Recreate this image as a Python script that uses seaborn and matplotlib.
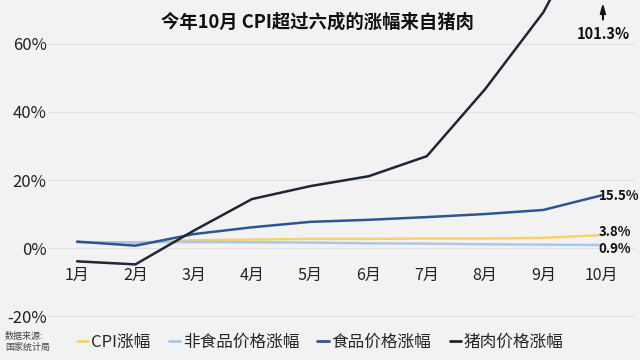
import pandas as pd
import seaborn as sns
import matplotlib.pyplot as plt
from matplotlib.patches import FancyArrow

months = ['1月', '2月', '3月', '4月', '5月', '6月', '7月', '8月', '9月', '10月']
cpi = [1.7, 1.5, 2.3, 2.5, 2.7, 2.7, 2.8, 2.8, 3.0, 3.8]
non_food = [1.7, 1.7, 1.8, 1.7, 1.6, 1.4, 1.3, 1.1, 1.0, 0.9]
food = [1.9, 0.7, 4.1, 6.1, 7.7, 8.3, 9.1, 10.0, 11.2, 15.5]
pork = [-3.9, -4.8, 5.1, 14.4, 18.2, 21.1, 27.0, 46.7, 69.3, 101.3]
series_names = ['CPI涨幅', '非食品价格涨幅', '食品价格涨幅', '猪肉价格涨幅']
colors = ['#f7d06f', '#a8c8e8', '#2e5592', '#1e2733']

df = pd.DataFrame({'idx': list(range(len(months))) * 4,
                   'value': cpi + non_food + food + pork,
                   'series': [s for s in series_names for _ in months]})

sns.set_theme(style='white')
plt.rcParams['font.family'] = ['Noto Sans CJK SC', 'DejaVu Sans']
bg = '#f2f2f2'

fig = plt.figure(figsize=(6.4, 3.6), dpi=100, facecolor=bg)
ax = fig.add_axes([0.075, 0.103, 0.917, 0.897])
ax.set_facecolor(bg)

sns.lineplot(data=df, x='idx', y='value', hue='series', palette=colors,
             linewidth=1.8, ax=ax, legend=False)

ax.set_xlim(-0.5, 9.57)
ax.set_ylim(-22, 72.9)
ax.set_yticks([-20, 0, 20, 40, 60])
ax.set_yticklabels(['-20%', '0%', '20%', '40%', '60%'], fontsize=12, color='#222222')
ax.tick_params(axis='y', length=0, pad=1)
ax.set_xticks([])
ax.grid(axis='y', color='#e2e2e2', linewidth=0.8)
ax.set_axisbelow(True)
for s in ax.spines.values():
    s.set_visible(False)
ax.set_xlabel('')
ax.set_ylabel('')

for i, m in enumerate(months):
    ax.text(i, -8, m, ha='center', va='center', fontsize=11.5, color='#222222')

# end labels
for val, y in [(food[-1], 15.2), (cpi[-1], 4.7), (non_food[-1], -0.3)]:
    ax.text(8.95, y, f'{val}%', ha='left', va='center', fontsize=9.5,
            fontweight='bold', color='#111111')

fig.text(0.942, 0.905, f'{pork[-1]}%', ha='center', va='center', fontsize=10.5,
         fontweight='bold', color='#111111')
fig.patches.append(FancyArrow(
    0.942, 0.945, 0, 0.04, width=0.0009, head_width=0.008, head_length=0.025,
    length_includes_head=True, color='#111111', transform=fig.transFigure))

fig.text(0.496, 0.938, '今年10月 CPI超过六成的涨幅来自猪肉', ha='center', va='center',
         fontsize=13.2, fontweight='bold', color='#111111')

handles = [plt.Line2D([0], [0], color=c, linewidth=2) for c in colors]
fig.legend(handles, series_names, loc='center left', bbox_to_anchor=(0.12, 0.05),
           ncol=4, frameon=False, fontsize=12, handlelength=0.7, handletextpad=0.15,
           columnspacing=1.1, borderpad=0, borderaxespad=0)

fig.text(0.008, 0.05, '数据来源:\n国家统计局', ha='left', va='center', fontsize=6.5,
         color='#444444', linespacing=1.15)

fig.savefig('out.png', dpi=100, facecolor=bg)
